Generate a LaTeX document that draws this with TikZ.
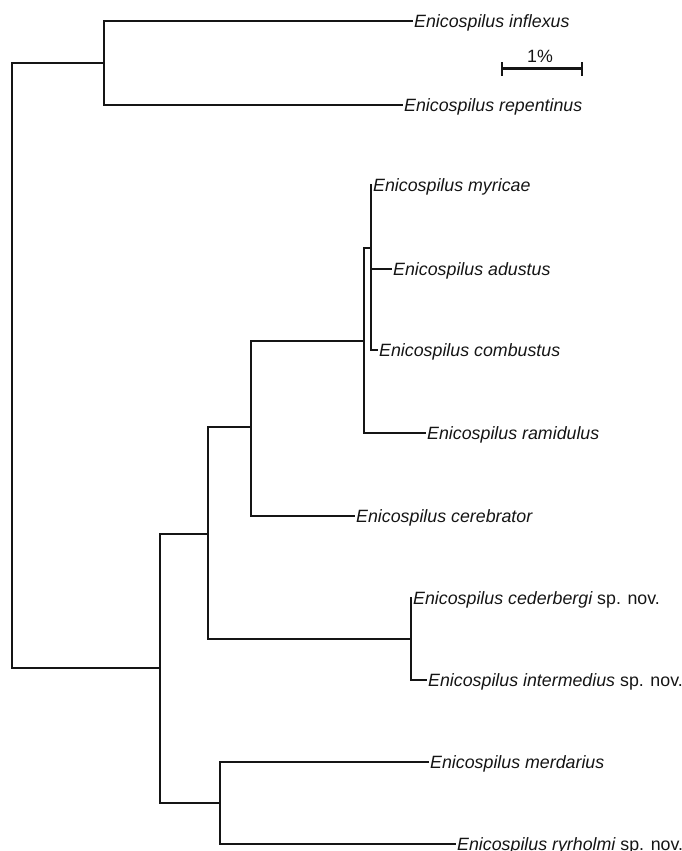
\documentclass[tikz,border=0pt]{standalone}
\usepackage{fontspec}
\setmainfont{Liberation Sans}
\definecolor{ink}{HTML}{151515}
\begin{document}
\begin{tikzpicture}[x=1pt,y=-1pt,
  int/.style={draw=ink,line width=2pt,line cap=rect},
  term/.style={draw=ink,line width=1.5pt},
  leaf/.style={anchor=west,inner xsep=1pt,inner ysep=0pt,text height=12.7pt,text depth=0pt,text=ink,
    font=\fontsize{17.8}{20}\selectfont\itshape},
  barlbl/.style={anchor=base,inner sep=0pt,text=ink,font=\fontsize{17.8}{20}\selectfont}]
\useasboundingbox (0,0) rectangle (682,851);
% leaves
\node[leaf] (inf) at (413,21) {Enicospilus inflexus};
\node[leaf] (rep) at (403,105) {Enicospilus repentinus};
\node[leaf] (myr) at (372,185) {Enicospilus myricae};
\node[leaf] (adu) at (392,269) {Enicospilus adustus};
\node[leaf] (com) at (378,350) {Enicospilus combustus};
\node[leaf] (ram) at (426,433) {Enicospilus ramidulus};
\node[leaf] (cer) at (355,516) {Enicospilus cerebrator};
\node[leaf] (ced) at (412,598) {Enicospilus cederbergi {\upshape sp. nov.}};
\node[leaf] (imd) at (427,680) {Enicospilus intermedius {\upshape sp. nov.}};
\node[leaf] (mer) at (429,762) {Enicospilus merdarius};
\node[leaf] (ryr) at (456,844) {Enicospilus ryrholmi {\upshape sp. nov.}};
% internal nodes
\coordinate (nR) at (12,365);
\coordinate (nA) at (104,63);
\coordinate (nL) at (160,668);
\coordinate (nM) at (220,803);
\coordinate (nC) at (208,534);
\coordinate (nK) at (411,639);
\coordinate (nD) at (251,427);
\coordinate (nE) at (364,341);
\coordinate (nF) at (371,248);
% branches
\draw[int] (nA) -| (nR) |- (nL);
\draw[term] (inf.west) -| (nA) |- (rep.west);
\draw[int] (nC) -| (nL) |- (nM);
\draw[term] (mer.west) -| (nM) |- (ryr.west);
\draw[int] (nD) -| (nC) |- (nK);
\draw[term] (ced.west) -| (nK) |- (imd.west);
\draw[int] (nE) -| (nD);
\draw[term] (nD) |- (cer.west);
\draw[int] (nF) -| (nE);
\draw[term] (nE) |- (ram.west);
\draw[term] (myr.west) -| (nF) |- (com.west);
\draw[term] (nF |- adu.west) -- (adu.west);
% scale bar
\coordinate (sb1) at (502,69);
\coordinate (sb2) at (582,69);
\draw[draw=ink,line width=3pt] (sb1) -- (sb2);
\draw[draw=ink,line width=2.6pt] ([yshift=-6.5pt]sb1) -- ([yshift=6.5pt]sb1);
\draw[draw=ink,line width=2.6pt] ([yshift=-6.5pt]sb2) -- ([yshift=6.5pt]sb2);
\node[barlbl] (sbl) at (540,63) {1\%};
\end{tikzpicture}
\end{document}
